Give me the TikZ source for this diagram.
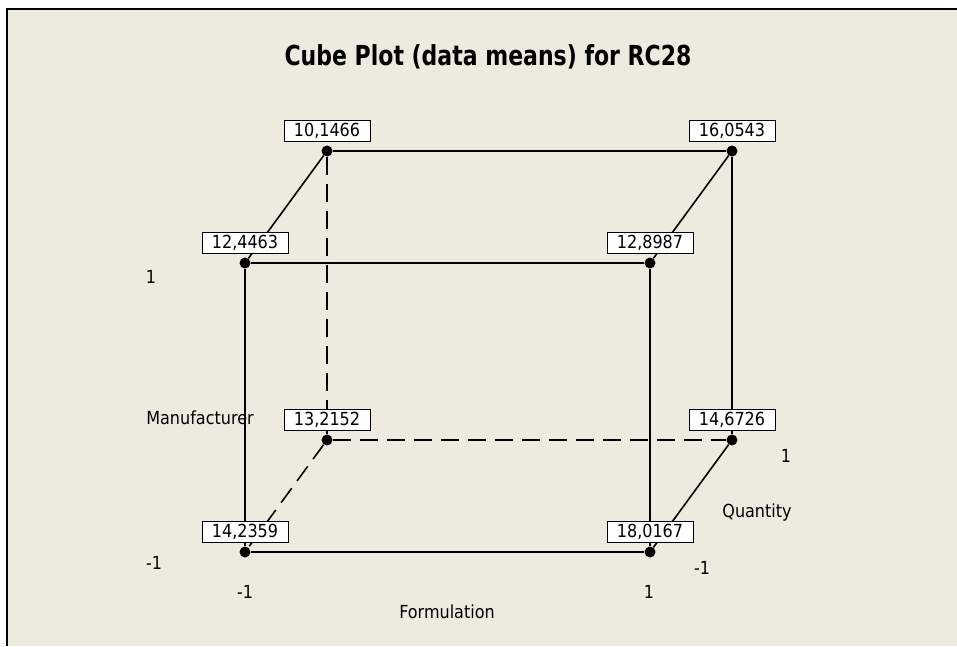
\documentclass[tikz,border=0pt]{standalone}
\usepackage{fontspec}
\setmainfont{DejaVu Sans}[FakeStretch=0.89]
\newfontfamily\titlefont{DejaVu Sans}[FakeStretch=0.8]
\usetikzlibrary{positioning}
\definecolor{panelbg}{RGB}{238,234,224}

\begin{document}
\begin{tikzpicture}[x=1pt, y=-1pt,
  every node/.style={font=\fontsize{18}{20}\selectfont},
  corner/.style={circle, fill=black, inner sep=0pt, minimum size=11pt},
  valbox/.style={draw, fill=white, line width=1pt, minimum width=86pt, minimum height=21pt, inner sep=0pt},
  edge/.style={line width=1.6pt},
  hidden/.style={edge, dash pattern=on 18pt off 9pt}]
  \useasboundingbox (0,0) rectangle (957,646);
  % Panel
  \fill[white] (0,0) rectangle (957,646);
  \fill[panelbg] (7,9) rectangle (957,646);
  \draw[line width=2pt] (7,646) -- (7,9) -- (957,9);
  \node[font=\titlefont\bfseries\fontsize{27.5}{30}\selectfont, anchor=base] (title) at (488,65) {Cube Plot (data means) for RC28};
  % Corners of the cube
  \node[corner] (btl) at (327,151) {};
  \node[corner] (btr) at (732,151) {};
  \node[corner] (ftl) at (245,263) {};
  \node[corner] (ftr) at (650,263) {};
  \node[corner] (bbl) at (327,440) {};
  \node[corner] (bbr) at (732,440) {};
  \node[corner] (fbl) at (245,552) {};
  \node[corner] (fbr) at (650,552) {};
  % Visible edges
  \draw[edge] (btl) -- (btr) -- (bbr);
  \draw[edge] (ftl) -- (ftr) -- (fbr) -- (fbl) -- (ftl);
  \draw[edge] (btl) -- (ftl);
  \draw[edge] (btr) -- (ftr);
  \draw[edge] (bbr) -- (fbr);
  % Hidden edges
  \draw[hidden] (btl) -- (bbl) -- (bbr);
  \draw[hidden] (bbl) -- (fbl);
  % Means
  \node[valbox, above=3pt of btl] (vbtl) {10,1466};
  \node[valbox, above=3pt of btr] (vbtr) {16,0543};
  \node[valbox, above=3pt of ftl] (vftl) {12,4463};
  \node[valbox, above=3pt of ftr] (vftr) {12,8987};
  \node[valbox, above=3pt of bbl] (vbbl) {13,2152};
  \node[valbox, above=3pt of bbr] (vbbr) {14,6726};
  \node[valbox, above=3pt of fbl] (vfbl) {14,2359};
  \node[valbox, above=3pt of fbr] (vfbr) {18,0167};
  % Factor labels
  \node (mhi) at (151,277) {1};
  \node (mname) at (200,418) {Manufacturer};
  \node (mlo) at (154,563) {-1};
  \node (flo) at (245,592) {-1};
  \node (fhi) at (649,592) {1};
  \node (fname) at (447,612) {Formulation};
  \node (qhi) at (786,456) {1};
  \node (qname) at (757,513) {Quantity};
  \node (qlo) at (702,568) {-1};
\end{tikzpicture}
\end{document}
